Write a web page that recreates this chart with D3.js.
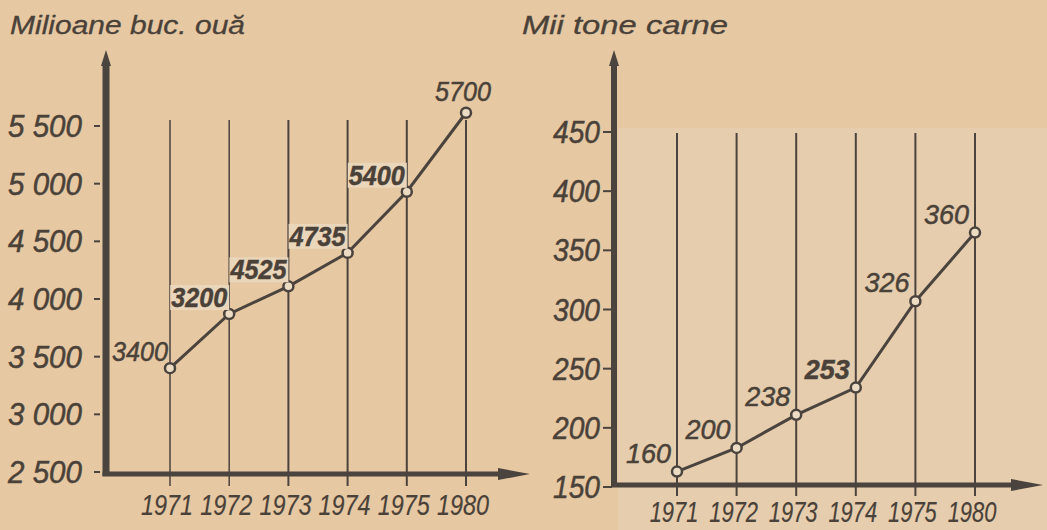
<!DOCTYPE html>
<html>
<head>
<meta charset="utf-8">
<script src="https://cdn.jsdelivr.net/npm/d3@7"></script>
<style>
html, body { margin: 0; padding: 0; background: #e6c8a2; }
svg { display: block; }
text { font-family: "Liberation Sans", Arial, sans-serif; font-style: italic; fill: #4a4139; stroke: #4a4139; stroke-width: 0.5; }
</style>
</head>
<body>
<svg id="chart"></svg>
<script>
// Shared categories
const years = ["1971", "1972", "1973", "1974", "1975", "1980"];

// Left panel: eggs (millions of pieces) - plotted values
const eggTitle = "Milioane buc. ouă";
const eggValues = [3400, 3870, 4110, 4400, 4930, 5615];
const eggLabels = ["3400", "3200", "4525", "4735", "5400", "5700"];
const eggBold = [false, true, true, true, true, false];
const eggTicks = [2500, 3000, 3500, 4000, 4500, 5000, 5500];

// Right panel: meat (thousand tonnes)
const meatTitle = "Mii tone carne";
const meatValues = [163, 183, 211, 234, 307, 365];
const meatLabels = ["160", "200", "238", "253", "326", "360"];
const meatBold = [false, false, false, true, false, false];
const meatTicks = [150, 200, 250, 300, 350, 400, 450];

const W = 1047, H = 530;
const ink = "#4b433d";
const paper = "#e6c8a2";

const spaced = d3.formatLocale({ decimal: ".", thousands: " ", grouping: [3], currency: ["", ""] }).format(",");

const svg = d3.select("#chart").attr("width", W).attr("height", H);

svg.append("rect").attr("width", W).attr("height", H).attr("fill", paper);
// slightly lighter speckled paper behind the right chart
svg.append("rect")
    .attr("x", 618).attr("y", 128)
    .attr("width", W - 618).attr("height", H - 128)
    .attr("fill", "#e5cdad");

function drawPanel(p) {
    const g = svg.append("g");

    const x = d3.scalePoint().domain(years).range(p.xRange);
    const y = d3.scaleLinear().domain(p.yDomain).range(p.yRange);
    const baseY = p.baseY;

    // title
    g.append("text")
        .attr("x", p.titleX).attr("y", 34)
        .attr("font-size", 26)
        .style("stroke-width", 0.3)
        .attr("textLength", p.titleW).attr("lengthAdjust", "spacingAndGlyphs")
        .text(p.title);

    // vertical grid lines at each year
    g.selectAll(".grid")
        .data(years)
        .join("line")
        .attr("x1", d => x(d)).attr("x2", d => x(d))
        .attr("y1", p.gridTop).attr("y2", p.gridBottom)
        .attr("stroke", ink).attr("stroke-width", (d, i) => i < p.thinGrid ? 1.5 : 2);

    // y axis ticks + labels
    const yAxis = g.append("g");
    yAxis.selectAll("line")
        .data(p.ticks)
        .join("line")
        .attr("x1", p.axisX - p.tickOut).attr("x2", p.axisX - p.tickIn)
        .attr("y1", d => y(d)).attr("y2", d => y(d))
        .attr("stroke", ink).attr("stroke-width", 2);
    yAxis.selectAll("text")
        .data(p.ticks)
        .join("text")
        .attr("x", p.tickLabelX)
        .attr("y", d => y(d) + 11)
        .attr("text-anchor", "end")
        .attr("font-size", 32)
        .attr("textLength", p.tickLabelW).attr("lengthAdjust", "spacingAndGlyphs")
        .text(d => p.tickFormat(d));

    // y axis line with arrow
    g.append("line")
        .attr("x1", p.axisX).attr("x2", p.axisX)
        .attr("y1", 62).attr("y2", baseY + 2)
        .attr("stroke", ink).attr("stroke-width", p.axisW);
    g.append("path")
        .attr("d", `M${p.axisX},50 L${p.axisX - 5},66 L${p.axisX + 5},66 Z`)
        .attr("fill", ink);

    // x axis line with arrow
    g.append("line")
        .attr("x1", p.axisX - p.axisW / 2).attr("x2", p.arrowX - 28)
        .attr("y1", baseY).attr("y2", baseY)
        .attr("stroke", ink).attr("stroke-width", 5);
    g.append("path")
        .attr("d", `M${p.arrowX},${baseY} L${p.arrowX - 32},${baseY - 6} L${p.arrowX - 32},${baseY + 6} Z`)
        .attr("fill", ink);

    // x labels, squeezed horizontally like the narrow lettering of the original
    g.selectAll(".xl")
        .data(years)
        .join("text")
        .attr("transform", d => `translate(${x(d) - 3},${p.xLabelY}) scale(${p.xLabelSqueeze},1)`)
        .attr("text-anchor", "middle")
        .attr("font-size", 30)
        .style("stroke-width", 0.2)
        .text(d => d);

    const pts = years.map((yr, i) => ({ yr, v: p.values[i], label: p.labels[i], bold: p.bold[i], i }));

    // series line
    g.append("path")
        .datum(pts)
        .attr("fill", "none")
        .attr("stroke", ink).attr("stroke-width", 3)
        .attr("d", d3.line().x(d => x(d.yr)).y(d => y(d.v)));

    // markers
    g.selectAll(".pt")
        .data(pts)
        .join("circle")
        .attr("cx", d => x(d.yr)).attr("cy", d => y(d.v))
        .attr("r", 5)
        .attr("fill", "#ecdcc4")
        .attr("stroke", ink).attr("stroke-width", 2.5);

    // value labels
    const lbl = g.selectAll(".vl")
        .data(pts)
        .join("g");
    lbl.each(function (d) {
        const sel = d3.select(this);
        const last = p.centerLast && d.i === pts.length - 1;
        const tx = last ? x(d.yr) - 3 : x(d.yr) + p.labelDx;
        const ty = y(d.v) + (last ? -12 : p.labelDy);
        const w = p.labelW * d.label.length / 4;
        if (d.bold && p.boxBold) {
            sel.append("rect")
                .attr("x", tx - w - 1).attr("y", ty - 22)
                .attr("width", w + 3).attr("height", 25)
                .attr("fill", "#ead6ba");
        }
        sel.append("text")
            .attr("x", tx).attr("y", ty)
            .attr("text-anchor", last ? "middle" : "end")
            .attr("font-size", 28)
            .attr("font-weight", d.bold ? "bold" : "normal")
            .attr("textLength", w).attr("lengthAdjust", "spacingAndGlyphs")
            .text(d.label);
    });
}

drawPanel({
    title: eggTitle, titleX: 10, titleW: 235,
    values: eggValues, labels: eggLabels, bold: eggBold, ticks: eggTicks,
    tickFormat: spaced,
    xRange: [170, 466], yDomain: [2500, 5500], yRange: [472, 126],
    baseY: 474, axisX: 106, axisW: 7, arrowX: 530,
    gridTop: 120, gridBottom: 486, thinGrid: 2,
    tickOut: 12, tickIn: 6,
    tickLabelX: 82, tickLabelW: 74,
    xLabelY: 515, xLabelSqueeze: 0.78,
    labelDx: -2, labelDy: -7, labelW: 56, centerLast: true, boxBold: true
});

drawPanel({
    title: meatTitle, titleX: 522, titleW: 206,
    values: meatValues, labels: meatLabels, bold: meatBold, ticks: meatTicks,
    tickFormat: d3.format("d"),
    xRange: [677, 975], yDomain: [150, 450], yRange: [487, 132],
    baseY: 485, axisX: 614, axisW: 6, arrowX: 1043,
    gridTop: 133, gridBottom: 496, thinGrid: 0,
    tickOut: 11, tickIn: 2,
    tickLabelX: 600, tickLabelW: 47,
    xLabelY: 522, xLabelSqueeze: 0.73,
    labelDx: -6, labelDy: -9, labelW: 60, centerLast: false, boxBold: false
});
</script>
</body>
</html>
